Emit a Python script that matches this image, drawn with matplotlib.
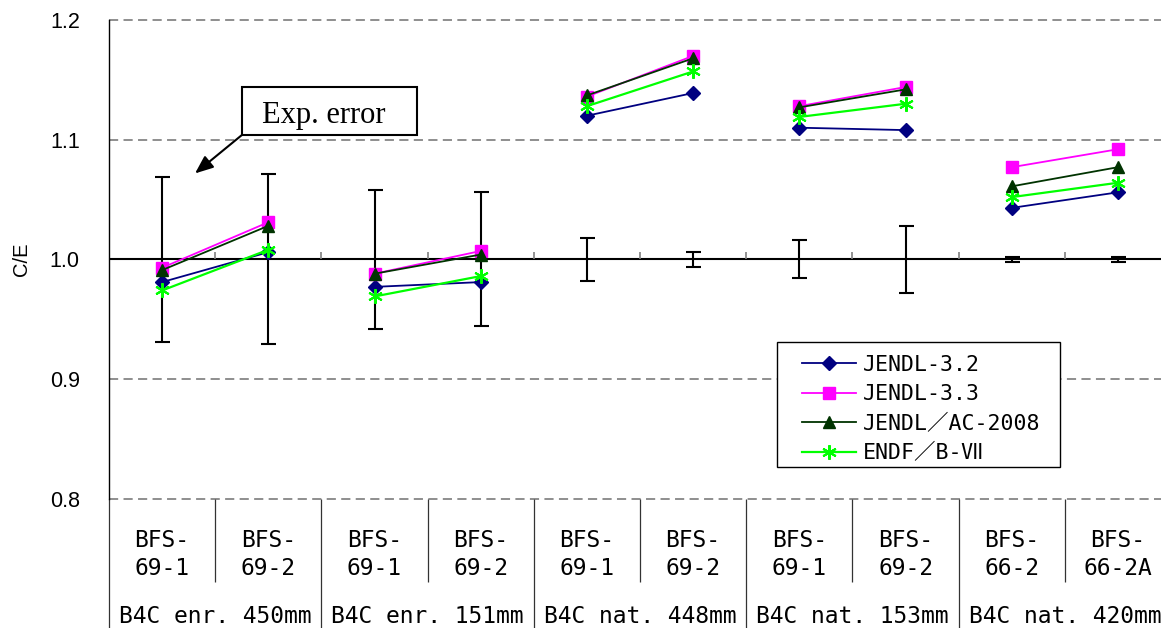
import numpy as np
import matplotlib
matplotlib.use('Agg')
import matplotlib.pyplot as plt
from matplotlib.patches import Rectangle

plt.rcParams['font.family'] = ['Liberation Sans', 'DejaVu Sans']

# data
cases = ['BFS-\n69-1', 'BFS-\n69-2', 'BFS-\n69-1', 'BFS-\n69-2', 'BFS-\n69-1',
         'BFS-\n69-2', 'BFS-\n69-1', 'BFS-\n69-2', 'BFS-\n66-2', 'BFS-\n66-2A']
groups = ['B4C enr. 450mm', 'B4C enr. 151mm', 'B4C nat. 448mm',
          'B4C nat. 153mm', 'B4C nat. 420mm']
exp_err = [0.069, 0.071, 0.058, 0.056, 0.018, 0.006, 0.016, 0.028, 0.002, 0.002]
jendl32 = [0.981, 1.006, 0.977, 0.981, 1.120, 1.139, 1.110, 1.108, 1.043, 1.056]
jendl33 = [0.993, 1.031, 0.988, 1.007, 1.136, 1.170, 1.128, 1.144, 1.077, 1.092]
jendlac = [0.991, 1.028, 0.988, 1.004, 1.137, 1.168, 1.127, 1.142, 1.061, 1.077]
endf7 = [0.974, 1.008, 0.969, 0.986, 1.128, 1.157, 1.119, 1.130, 1.052, 1.064]
names = ['JENDL-3.2', 'JENDL-3.3', 'JENDL／AC-2008', 'ENDF／B-Ⅶ']
tick_vals = [0.8, 0.9, 1.0, 1.1, 1.2]
tick_labels = ['0.8', '0.9', '1.0', '1.1', '1.2']

styles = [
    dict(color='#000080', marker='D', ms=7.5, lw=1.3),
    dict(color='#ff00ff', marker='s', ms=8, lw=1.3),
    dict(color='#003300', marker='^', ms=9, lw=1.3),
    dict(color='#00ff00', marker=(6, 2, 0), ms=10.5, lw=1.6, mew=1.5),
]

W, H = 1161, 628
fig = plt.figure(figsize=(W/100, H/100), dpi=100)
ax = fig.add_axes([109/W, 1-498.7/H, 1062/W, 478.7/H])

x = np.arange(len(cases))
ax.set_xlim(-0.5, 9.5)
ax.set_ylim(0.8, 1.2)

ax.set_yticks(tick_vals)
ax.set_yticklabels(tick_labels)
ax.tick_params(axis='y', length=0, pad=21, labelsize=15.5)
ax.set_xticks([])
for s in ['top', 'right', 'bottom']:
    ax.spines[s].set_visible(False)
ax.spines['left'].set_linewidth(1.0)
ax.spines['left'].set_zorder(3)

for yv in [0.8, 0.9, 1.1, 1.2]:
    ax.axhline(yv, color='#707070', lw=1.1, dashes=(6, 3.5), clip_on=False, zorder=1)
ax.axhline(1.0, color='black', lw=1.5, zorder=2)
ax.vlines(np.arange(0.5, 9.5), 1.0, 1.006, color='#808080', lw=1.2, zorder=2)

# experimental error bars around 1.0
ax.errorbar(x, np.ones(len(x)), yerr=exp_err, fmt='none', ecolor='black',
            elinewidth=1.5, capsize=5.4, capthick=1.5, zorder=2.5)

for vals, name, st in zip([jendl32, jendl33, jendlac, endf7], names, styles):
    vals = np.array(vals)
    for g in range(5):
        idx = slice(2*g, 2*g+2)
        ax.plot(x[idx], vals[idx], label=name if g == 0 else None, zorder=3, **st)

# legend box drawn by hand, legend itself frameless
ax.add_patch(Rectangle((777/W, 1-467/H), 283/W, 125/H, transform=fig.transFigure,
                       fc='white', ec='black', lw=1.0, zorder=5, clip_on=False))
leg = ax.legend(loc='upper left', bbox_to_anchor=(802/W, 1-355/H),
                bbox_transform=fig.transFigure, borderaxespad=0, borderpad=0,
                frameon=False, numpoints=1,
                handlelength=2.5, handletextpad=0.35, labelspacing=0.44,
                prop={'family': ['DejaVu Sans Mono', 'Noto Sans CJK JP'], 'size': 15.5})
leg.set_zorder(6)

# Exp. error annotation
ax.add_patch(Rectangle((0.75, 1.1038), 1.653, 0.0404, fc='white', ec='black',
                       lw=1.5, zorder=4))
ax.text(1.525, 1.1136, 'Exp. error', ha='center', va='baseline',
        family='Liberation Serif', fontsize=22, zorder=5)
ax.annotate('', xy=(0.31, 1.0718), xytext=(0.75, 1.1038),
            arrowprops=dict(arrowstyle='-|>,head_length=1.1,head_width=0.45',
                            color='black', lw=1.5, shrinkA=0, shrinkB=0))

# category table under the plot
trans = ax.get_xaxis_transform()
ax.vlines(np.arange(0.5, 9.5, 2), -0.1734, 0, transform=trans, clip_on=False,
          color='#333333', lw=0.9)
ax.vlines(np.arange(-0.5, 10.5, 2), -0.3, 0, transform=trans, clip_on=False,
          color='#333333', lw=0.9)
for i, c in enumerate(cases):
    ax.text(i, -0.1166, c, transform=trans, ha='center', va='center',
            family='DejaVu Sans Mono', fontsize=16.5, linespacing=1.3)
for g, name in enumerate(groups):
    ax.text(2*g + 0.5, -0.2465, name, transform=trans, ha='center', va='center',
            family='DejaVu Sans Mono', fontsize=16.5)

fig.text(21.5/W, 1-259/H, 'C/E', rotation=90, ha='center', va='center',
         fontsize=14.5)

fig.savefig('out.png', dpi=100)
